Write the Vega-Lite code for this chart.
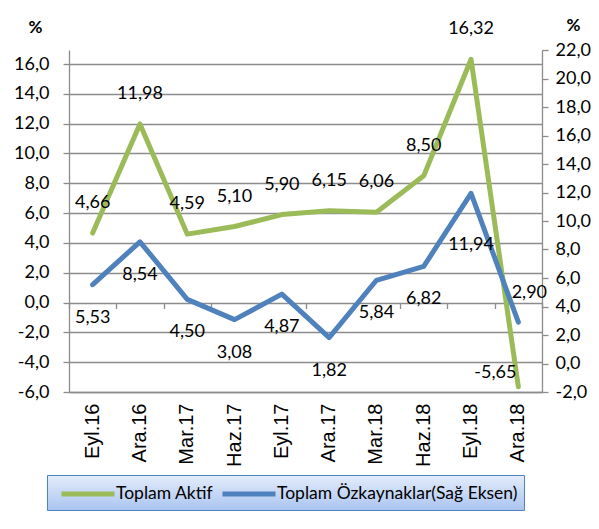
{
  "$schema": "https://vega.github.io/schema/vega-lite/v6.json",
  "width": 473,
  "height": 342,
  "autosize": {"type": "none"},
  "padding": {"left": 69, "top": 50, "right": 57, "bottom": 137},
  "background": "white",
  "config": {
    "view": {"stroke": null},
    "font": "Lato",
    "axis": {
      "labelFont": "Lato",
      "labelFontSize": 18,
      "labelColor": "black",
      "domainColor": "#8c8c8c",
      "domainWidth": 1.3,
      "tickColor": "#8c8c8c",
      "tickWidth": 1.3,
      "gridColor": "#8c8c8c",
      "gridWidth": 1.3
    },
    "text": {"font": "Lato", "fontSize": 18, "color": "black"}
  },
  "data": {
    "values": [
      {"period": "Eyl.16", "aktif": 4.66, "ozk": 5.53},
      {"period": "Ara.16", "aktif": 11.98, "ozk": 8.54},
      {"period": "Mar.17", "aktif": 4.59, "ozk": 4.50},
      {"period": "Haz.17", "aktif": 5.10, "ozk": 3.08},
      {"period": "Eyl.17", "aktif": 5.90, "ozk": 4.87},
      {"period": "Ara.17", "aktif": 6.15, "ozk": 1.82},
      {"period": "Mar.18", "aktif": 6.06, "ozk": 5.84},
      {"period": "Haz.18", "aktif": 8.50, "ozk": 6.82},
      {"period": "Eyl.18", "aktif": 16.32, "ozk": 11.94},
      {"period": "Ara.18", "aktif": -5.65, "ozk": 2.90}
    ]
  },
  "layer": [
    {
      "encoding": {
        "x": {
          "field": "period", "type": "ordinal", "sort": null, "bandPosition": 0.5,
          "scale": {"type": "band", "paddingInner": 0, "paddingOuter": 0},
          "axis": {
            "orient": "bottom", "title": null, "labelAngle": -90, "ticks": false,
            "labelFont": "Liberation Sans", "labelFontSize": 20, "labelPadding": 11
          }
        },
        "y": {
          "field": "aktif", "type": "quantitative",
          "scale": {"domain": [-6, 16.94], "nice": false, "zero": false},
          "axis": {
            "orient": "left", "values": [-6, -4, -2, 0, 2, 4, 6, 8, 10, 12, 14, 16],
            "labelExpr": "(datum.value < 0 ? '-' : '') + replace(format(abs(datum.value), '.1f'), '.', ',')",
            "grid": true, "tickSize": 6, "labelPadding": 14,
            "title": "%", "titleAngle": 0, "titleX": -34, "titleY": -23,
            "titleAlign": "center", "titleBaseline": "middle",
            "titleFont": "Lato", "titleFontSize": 17, "titleFontWeight": "bold"
          }
        }
      },
      "layer": [
        {
          "mark": {"type": "line", "strokeWidth": 5, "strokeCap": "round", "strokeJoin": "round"},
          "encoding": {
            "color": {
              "datum": "Toplam Aktif", "type": "nominal",
              "scale": {
                "domain": ["Toplam Aktif", "Toplam Özkaynaklar(Sağ Eksen)"],
                "range": ["#9BBB59", "#4F81BD"]
              },
              "legend": {
                "title": null, "orient": "none", "legendX": -22, "legendY": 425,
                "direction": "horizontal",
                "symbolType": "M-0.43,0H4.62", "symbolSize": 441,
                "symbolStrokeWidth": 5, "labelFont": "Lato", "labelFontSize": 17.5,
                "labelLimit": 0, "labelColor": "black", "labelOffset": 37,
                "columnPadding": -5, "padding": 6,
                "strokeColor": "#4F81BD", "fillColor": "#c8d9f5",
                "encode": {
                  "legend": {
                    "update": {
                      "fill": {
                        "value": {
                          "gradient": "linear", "x1": 0, "y1": 0, "x2": 0, "y2": 1,
                          "stops": [
                            {"offset": 0, "color": "#e4ecfb"},
                            {"offset": 1, "color": "#a9c4f0"}
                          ]
                        }
                      }
                    }
                  }
                }
              }
            }
          }
        },
        {
          "transform": [
            {"filter": "datum.period !== 'Ara.18'"},
            {"calculate": "replace(replace(format(datum.aktif, '.2f'), '.', ','), '−', '-')", "as": "lbl"}
          ],
          "mark": {"type": "text", "dy": -30},
          "encoding": {"text": {"field": "lbl"}}
        },
        {
          "transform": [
            {"filter": "datum.period === 'Ara.18'"},
            {"calculate": "replace(replace(format(datum.aktif, '.2f'), '.', ','), '−', '-')", "as": "lbl"}
          ],
          "mark": {"type": "text", "align": "right", "dx": -2, "dy": -14},
          "encoding": {"text": {"field": "lbl"}}
        }
      ]
    },
    {
      "encoding": {
        "x": {
          "field": "period", "type": "ordinal", "sort": null, "bandPosition": 0.5,
          "axis": {
            "orient": "bottom", "offset": -89.5, "labels": false, "title": null,
            "ticks": true, "tickBand": "extent", "tickSize": 6, "domain": false
          }
        },
        "y": {
          "field": "ozk", "type": "quantitative",
          "scale": {"domain": [-2, 22], "nice": false, "zero": false},
          "axis": {
            "orient": "right", "values": [-2, 0, 2, 4, 6, 8, 10, 12, 14, 16, 18, 20, 22],
            "labelExpr": "(datum.value < 0 ? '-' : '') + replace(format(abs(datum.value), '.1f'), '.', ',')",
            "grid": false, "tickSize": 6, "labelPadding": 7,
            "title": "%", "titleAngle": 0, "titleX": 31, "titleY": -25,
            "titleAlign": "center", "titleBaseline": "middle",
            "titleFont": "Lato", "titleFontSize": 17, "titleFontWeight": "bold"
          }
        }
      },
      "layer": [
        {
          "mark": {"type": "line", "strokeWidth": 5, "strokeCap": "round", "strokeJoin": "round"},
          "encoding": {"color": {"datum": "Toplam Özkaynaklar(Sağ Eksen)", "type": "nominal"}}
        },
        {
          "transform": [
            {"filter": "datum.period !== 'Eyl.18' && datum.period !== 'Ara.18'"},
            {"calculate": "replace(format(datum.ozk, '.2f'), '.', ',')", "as": "lbl"}
          ],
          "mark": {"type": "text", "dy": 33},
          "encoding": {"text": {"field": "lbl"}}
        },
        {
          "transform": [
            {"filter": "datum.period === 'Eyl.18'"},
            {"calculate": "replace(format(datum.ozk, '.2f'), '.', ',')", "as": "lbl"}
          ],
          "mark": {"type": "text", "dy": 52},
          "encoding": {"text": {"field": "lbl"}}
        },
        {
          "transform": [
            {"filter": "datum.period === 'Ara.18'"},
            {"calculate": "replace(format(datum.ozk, '.2f'), '.', ',')", "as": "lbl"}
          ],
          "mark": {"type": "text", "dx": 11, "dy": -29},
          "encoding": {"text": {"field": "lbl"}}
        }
      ]
    }
  ],
  "resolve": {
    "scale": {"y": "independent"},
    "axis": {"x": "independent", "y": "independent"}
  }
}
